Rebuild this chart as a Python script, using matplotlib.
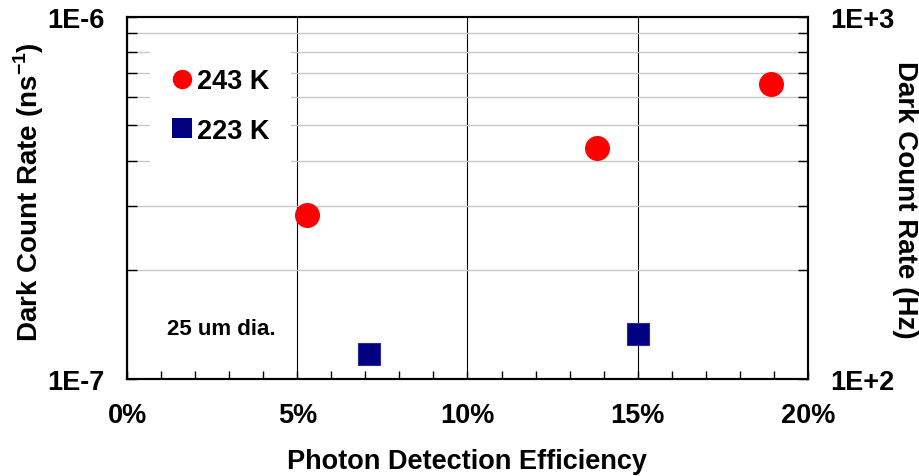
import matplotlib
matplotlib.use("Agg")
import matplotlib.pyplot as plt
from matplotlib.ticker import LogLocator, NullFormatter, MultipleLocator, PercentFormatter
from matplotlib.lines import Line2D

plt.rcParams['font.family'] = ['Liberation Sans', 'DejaVu Sans']
plt.rcParams['font.weight'] = 'bold'
plt.rcParams['mathtext.fontset'] = 'custom'
plt.rcParams['mathtext.rm'] = 'Liberation Sans:bold'
plt.rcParams['mathtext.bf'] = 'Liberation Sans:bold'

# Datos
pde_243 = [0.053, 0.138, 0.189]
dcr_243 = [2.83e-7, 4.33e-7, 6.50e-7]
pde_223 = [0.071, 0.150]
dcr_223 = [1.17e-7, 1.33e-7]
etiquetas = ["243 K", "223 K"]
y_ticks = [1e-7, 1e-6]
y_labels = ["1E-7", "1E-6"]
y2_ticks = [1e2, 1e3]
y2_labels = ["1E+2", "1E+3"]

fig = plt.figure(figsize=(9.19, 4.77), dpi=100)
ax = fig.add_axes([0.1382, 0.2044, 0.7410, 0.7589])

ax.plot(pde_243, dcr_243, 'o', color='#ff0000', markersize=18, markeredgewidth=0, zorder=5)
ax.plot(pde_223, dcr_223, 's', color='#000080', markeredgecolor='#2a2aa0',
        markeredgewidth=0.8, markersize=16, zorder=5)

ax.set_xlim(0, 0.2)
ax.set_yscale('log')
ax.set_ylim(1e-7, 1e-6)

ax.xaxis.set_major_locator(MultipleLocator(0.05))
ax.xaxis.set_minor_locator(MultipleLocator(0.01))
ax.xaxis.set_major_formatter(PercentFormatter(1.0, decimals=0))
ax.set_yticks(y_ticks, labels=y_labels)
ax.yaxis.set_minor_locator(LogLocator(base=10, subs=range(2, 10)))
ax.yaxis.set_minor_formatter(NullFormatter())

ax.tick_params(axis='x', which='both', direction='in', length=6, width=1, pad=17, labelsize=19.5)
ax.tick_params(axis='y', which='both', direction='in', length=7, width=1, pad=16, labelsize=19.5)

ax.yaxis.grid(True, which='minor', color='#c8c8c8', lw=1)
ax.xaxis.grid(True, which='major', color='black', lw=0.8)
ax.set_axisbelow(True)
for s in ax.spines.values():
    s.set_linewidth(1.5)

ax.set_xlabel("Photon Detection Efficiency", fontsize=19.5, fontweight='bold', va='baseline')
ax.xaxis.set_label_coords(0.499, -0.247)
ax.set_ylabel("Dark Count Rate (ns$^{-1}$)", fontsize=20, fontweight='bold', va='center')
ax.yaxis.set_label_coords(-0.144, 0.518)

ax2 = ax.twinx()
ax2.set_yscale('log')
ax2.set_ylim(1e2, 1e3)
ax2.set_yticks(y2_ticks, labels=y2_labels)
ax2.yaxis.set_minor_locator(LogLocator(base=10, subs=range(2, 10)))
ax2.yaxis.set_minor_formatter(NullFormatter())
ax2.tick_params(axis='y', which='both', direction='in', length=7, width=1, pad=16, labelsize=19.5)
ax2.set_ylabel("Dark Count Rate (Hz)", fontsize=20, fontweight='bold', rotation=270, va='center')
ax2.yaxis.set_label_coords(1.1424, 0.496)
for s in ax2.spines.values():
    s.set_linewidth(1.5)

handles = [
    Line2D([], [], marker='o', linestyle='none', color='#ff0000', markersize=14, markeredgewidth=0),
    Line2D([], [], marker='s', linestyle='none', color='#000080', markersize=14, markeredgewidth=0),
]
leg = ax2.legend(handles, etiquetas, loc='upper left', bbox_to_anchor=(0.0338, 0.915),
                 borderaxespad=0, frameon=True, fancybox=False, edgecolor='none',
                 facecolor='white', framealpha=1, prop={'size': 19.5, 'weight': 'bold'},
                 handlelength=0.8, handletextpad=0.15, labelspacing=0.87, borderpad=0.78)

ax.text(0.138, 0.137, "25 um dia.", transform=ax.transAxes, ha='center', va='center',
        fontsize=16, fontweight='bold')

fig.savefig("out.png", dpi=100)
